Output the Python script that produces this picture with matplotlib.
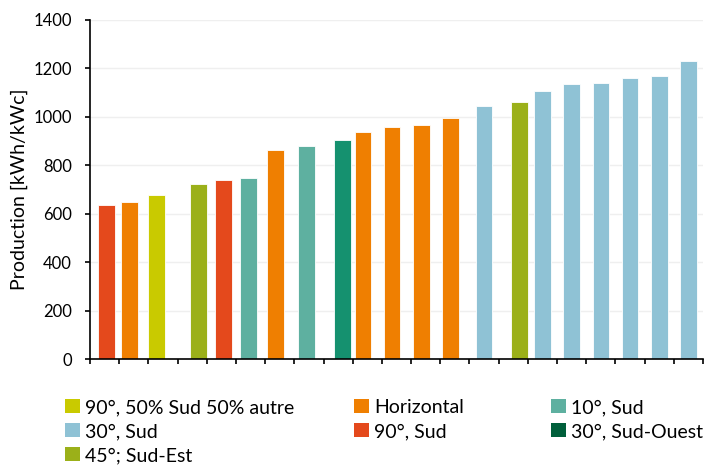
import numpy as np
import matplotlib.pyplot as plt
from matplotlib.patches import Patch

plt.rcParams['font.family'] = ['Lato', 'DejaVu Sans']

# series (Excel-style clustered bars, one value per category)
series_names = ["90°, 50% Sud 50% autre", "Horizontal", "10°, Sud", "30°, Sud",
                "90°, Sud", "30°, Sud-Ouest", "45°; Sud-Est"]
series_colors = ["#C9CA00", "#EF7F01", "#5EB0A0", "#8FC2D5",
                 "#E4491C", "#15916F", "#9BB019"]
legend_colors = ["#C9CA00", "#EF7F01", "#5EB0A0", "#8FC2D5",
                 "#E4491C", "#005F3B", "#9BB019"]

# one bar per category: which series it belongs to, and its value
bar_series = [4, 1, 0, 6, 4, 2, 1, 2, 5, 1, 1, 1, 1, 3, 6, 3, 3, 3, 3, 3, 3]
bar_values = [637, 649, 679, 722, 741, 748, 862, 878, 904, 937, 957, 967, 995,
              1045, 1060, 1106, 1136, 1139, 1160, 1168, 1231]

fig = plt.figure(figsize=(7.08, 4.66), dpi=100)
ax = fig.add_axes([90/708, 1-359.3/466, 613/708, 339.5/466])

nser = len(series_names)
step = 0.074
width = 0.57
for i, (s, v) in enumerate(zip(bar_series, bar_values)):
    x = i + (s - (nser-1)/2) * step
    ax.bar(x, v, width=width, color=series_colors[s], edgecolor='white',
           linewidth=0.6, zorder=2)

ax.set_xlim(-0.5, len(bar_values)-0.5)
ax.set_ylim(0, 1400)
ax.set_yticks(np.arange(0, 1401, 200))
ax.set_xticks(np.arange(-0.5, len(bar_values)))
ax.set_xticklabels([])
ax.grid(axis='y', color='#EFEFEF', linewidth=1, zorder=0)
for sp in ['top', 'right']:
    ax.spines[sp].set_visible(False)
ax.spines['left'].set_linewidth(1.2)
ax.spines['bottom'].set_linewidth(1.2)
ax.tick_params(axis='x', direction='out', length=3.5, width=1.2)
ax.tick_params(axis='y', direction='out', length=3.5, width=1.2, labelsize=12, pad=9.5)
ax.set_ylabel("Production [kWh/kWc]", fontsize=14, labelpad=4)

# legend, three columns placed like the original
col_x = [65/708, 354/708, 551/708]
cols = [[0, 3, 6], [1, 4], [2, 5]]
for cx, idx in zip(col_x, cols):
    handles = [Patch(facecolor=legend_colors[k], edgecolor='none') for k in idx]
    fig.legend(handles, [series_names[k] for k in idx], loc='upper left',
               bbox_to_anchor=(cx, 1-399/466), frameon=False, fontsize=14,
               borderpad=0, borderaxespad=0, handlelength=0.75, handleheight=0.75,
               handletextpad=0.3, labelspacing=0.36)

fig.savefig("out.png", dpi=100)
